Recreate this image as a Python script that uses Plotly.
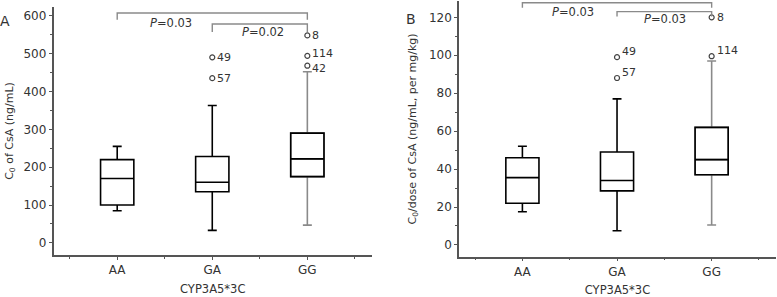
import plotly.graph_objects as go

# ---------------- data ----------------
genotypes = ["AA", "GA", "GG"]
tick_labels = ["AA", "GA", "GG"]

# Panel A: C0 of CsA (ng/mL)
a_q1 = [100, 135, 175]
a_median = [170, 160, 222]
a_q3 = [220, 228, 290]
a_low = [85, 33, 47]
a_high = [255, 363, 452]
a_out_group = [1, 1, 2, 2, 2]
a_out_value = [490, 435, 548, 494, 468]
a_out_label = ["49", "57", "8", "114", "42"]

# Panel B: C0/dose of CsA
b_q1 = [22, 28.5, 37]
b_median = [35.5, 34, 45]
b_q3 = [46, 49, 62]
b_low = [17.5, 7.5, 10.5]
b_high = [52, 77, 97]
b_out_group = [1, 1, 2, 2]
b_out_value = [99, 88, 120, 99.5]
b_out_label = ["49", "57", "8", "114"]

# significance brackets: (from group, to group, top, end-drop, label x, label y, label)
a_brackets = [(0, 2, 607, 589, 0.57, 582, "<i>P</i>=0.03"),
              (1, 2, 578, 557, 1.53, 557, "<i>P</i>=0.02")]
b_brackets = [(0, 2, 127.7, 125, 0.53, 123, "<i>P</i>=0.03"),
              (1, 2, 123, 120.4, 1.51, 118.9, "<i>P</i>=0.03")]

FONT = "DejaVu Sans"
TXT = "#333333"
AXC = "#555555"
GREY = "#8a8a8a"

# label vertical nudges (pixels), style only
a_label_shift = {"49": 0, "57": 0, "8": 0, "114": 2, "42": -3}
b_label_shift = {"49": 6, "57": 6, "8": 0, "114": 6}

fig = go.Figure()
annotations = []


def add_panel(xa, ya, q1, med, q3, lo, hi, og, ov, ol, shifts):
    xr = "x" if xa == 1 else f"x{xa}"
    yr = "y" if ya == 1 else f"y{ya}"
    for i in range(len(genotypes)):
        wh_color = GREY if i == 2 else "black"
        fig.add_trace(go.Box(
            x=[i], q1=[q1[i]], median=[med[i]], q3=[q3[i]],
            lowerfence=[lo[i]], upperfence=[hi[i]],
            width=0.35, whiskerwidth=0.27, boxpoints=False,
            line=dict(color=wh_color, width=1.6),
            fillcolor="rgba(0,0,0,0)", orientation="v",
            xaxis=xr, yaxis=yr, showlegend=False, hoverinfo="skip"))
        if i == 2:
            fig.add_trace(go.Box(
                x=[i], q1=[q1[i]], median=[med[i]], q3=[q3[i]],
                lowerfence=[q1[i]], upperfence=[q3[i]],
                width=0.35, whiskerwidth=0.0, boxpoints=False,
                line=dict(color="black", width=1.6),
                fillcolor="rgba(0,0,0,0)", orientation="v",
                xaxis=xr, yaxis=yr, showlegend=False, hoverinfo="skip"))
    fig.add_trace(go.Scatter(
        x=og, y=ov, mode="markers",
        marker=dict(symbol="circle-open", size=5, color="#444444", line=dict(width=1.2)),
        cliponaxis=False, xaxis=xr, yaxis=yr, showlegend=False, hoverinfo="skip"))
    for gx, vy, lab in zip(og, ov, ol):
        annotations.append(dict(x=gx, y=vy, xref=xr, yref=yr, text=lab, showarrow=False,
                                xanchor="left", yanchor="middle", xshift=3,
                                yshift=shifts.get(lab, 0),
                                font=dict(family=FONT, size=11, color=TXT)))


add_panel(1, 1, a_q1, a_median, a_q3, a_low, a_high, a_out_group, a_out_value, a_out_label, a_label_shift)
add_panel(2, 2, b_q1, b_median, b_q3, b_low, b_high, b_out_group, b_out_value, b_out_label, b_label_shift)

shapes = []
for (xr, yr, brs) in [("x", "y", a_brackets), ("x2", "y2", b_brackets)]:
    for (g0, g1, top, drop, lx, ly, lab) in brs:
        shapes.append(dict(type="path", xref=xr, yref=yr,
                           path=f"M {g0} {drop} L {g0} {top} L {g1} {top} L {g1} {drop}",
                           line=dict(color=GREY, width=1.4)))
        annotations.append(dict(x=lx, y=ly, xref=xr, yref=yr, text=lab, showarrow=False,
                                font=dict(family=FONT, size=11.5, color=TXT)))

annotations.append(dict(x=5 / 777, y=1 - 11 / 297, xref="paper", yref="paper", text="A",
                        xanchor="center", showarrow=False, font=dict(family=FONT, size=14, color=TXT)))
annotations.append(dict(x=411 / 777, y=1 - 9 / 297, xref="paper", yref="paper", text="B",
                        xanchor="center", showarrow=False, font=dict(family=FONT, size=14, color=TXT)))


def xaxis_cfg(domain):
    return dict(domain=domain, range=[-0.67, 2.68], tickmode="array", tickvals=[0, 1, 2],
                ticktext=tick_labels, ticks="outside", ticklen=3, tickwidth=1.2, tickcolor=AXC,
                showline=True, linecolor=AXC, linewidth=1.5, showgrid=False, zeroline=False,
                tickfont=dict(family=FONT, size=12, color=TXT),
                minor=dict(tickvals=[-0.5, 0.5, 1.5, 2.5], ticks="outside", ticklen=2,
                           tickcolor=AXC, tickwidth=1),
                title=dict(text="CYP3A5*3C", font=dict(family=FONT, size=11.5, color=TXT), standoff=9),
                automargin=False)


def yaxis_cfg(domain, rng, dtick, anchor, title, standoff):
    return dict(domain=domain, range=rng, dtick=dtick, tick0=0, anchor=anchor,
                ticks="outside", ticklen=3, tickwidth=1.2, tickcolor=AXC,
                showline=True, linecolor=AXC, linewidth=1.5, showgrid=False, zeroline=False,
                tickfont=dict(family=FONT, size=12, color=TXT),
                minor=dict(dtick=dtick / 2, ticks="outside", ticklen=2, tickcolor=AXC, tickwidth=1),
                title=dict(text=title, font=dict(family=FONT, size=11, color=TXT), standoff=standoff),
                automargin=False)


fig.update_layout(
    width=777, height=297, margin=dict(l=0, r=0, t=0, b=0),
    paper_bgcolor="white", plot_bgcolor="white", boxmode="overlay",
    xaxis=dict(xaxis_cfg([53.5 / 777, 372 / 777]), anchor="y"),
    yaxis=yaxis_cfg([1 - 255 / 297, 1 - 7 / 297], [-32, 623], 100, "x",
                    "C<sub>0</sub> of CsA (ng/mL)", 8),
    xaxis2=dict(xaxis_cfg([459 / 777, 776 / 777]), anchor="y2"),
    yaxis2=yaxis_cfg([1 - 256.7 / 297, 1 - 1.2 / 297], [-6.2, 128.5], 20, "x2",
                     "C<sub>0</sub>/dose of CsA (ng/mL, per mg/kg)", 10),
    shapes=shapes, annotations=annotations,
)

fig.write_html("out.html", config={"displayModeBar": False},
               post_script="document.body.style.margin='0';document.body.style.padding='0';"
                           "document.body.style.overflow='hidden';")
